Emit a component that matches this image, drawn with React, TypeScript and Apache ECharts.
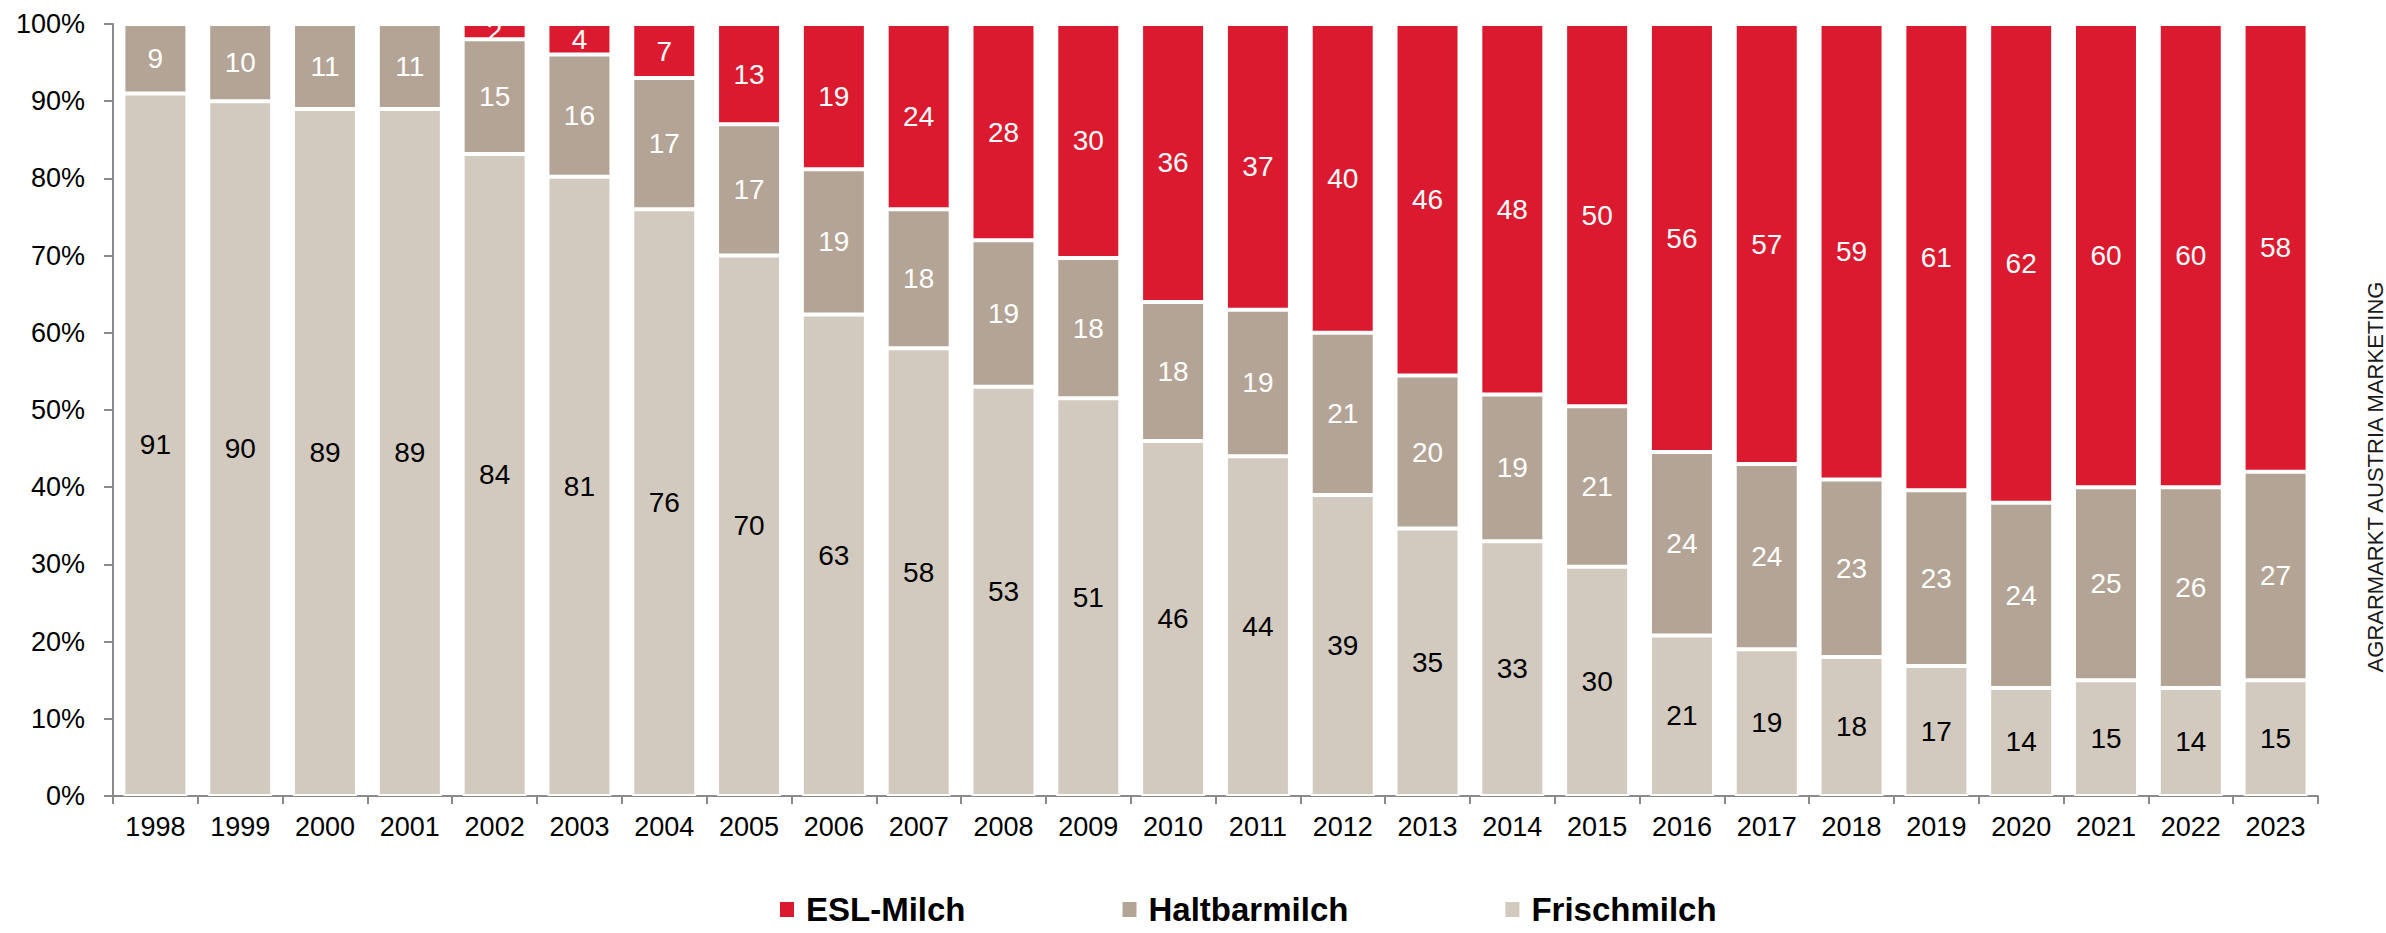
import React, { useEffect, useRef } from "react";
import * as echarts from "echarts";

const years = [
  "1998", "1999", "2000", "2001", "2002", "2003", "2004", "2005", "2006",
  "2007", "2008", "2009", "2010", "2011", "2012", "2013", "2014", "2015",
  "2016", "2017", "2018", "2019", "2020", "2021", "2022", "2023",
];
const frischmilch = [91, 90, 89, 89, 84, 81, 76, 70, 63, 58, 53, 51, 46, 44, 39, 35, 33, 30, 21, 19, 18, 17, 14, 15, 14, 15];
const haltbarmilch = [9, 10, 11, 11, 15, 16, 17, 17, 19, 18, 19, 18, 18, 19, 21, 20, 19, 21, 24, 24, 23, 23, 24, 25, 26, 27];
const eslMilch = [0, 0, 0, 0, 2, 4, 7, 13, 19, 24, 28, 30, 36, 37, 40, 46, 48, 50, 56, 57, 59, 61, 62, 60, 60, 58];
const seriesNames = ["Frischmilch", "Haltbarmilch", "ESL-Milch"];
const legendOrder = ["ESL-Milch", "Haltbarmilch", "Frischmilch"];
const sourceText = "AGRARMARKT AUSTRIA MARKETING";

const COLORS = ["#D2C9BF", "#B3A495", "#DB1A30"];
const LABEL_COLORS = ["#000000", "#ffffff", "#ffffff"];
const FONT = "'Liberation Sans', Arial, Helvetica, sans-serif";

export default function App() {
  const ref = useRef<HTMLDivElement>(null);
  useEffect(() => {
    document.body.style.margin = "0";
    if (!ref.current) return;
    const chart = echarts.init(ref.current, undefined, { renderer: "svg" });
    const raw = [frischmilch, haltbarmilch, eslMilch];
    const totals = years.map((_, i) => raw.reduce((s, arr) => s + arr[i], 0));
    const series = raw.map((arr, si) => ({
      name: seriesNames[si],
      type: "bar",
      stack: "total",
      barWidth: 64,
      data: arr.map((v, i) => (v / totals[i]) * 100),
      itemStyle: { color: COLORS[si], borderColor: "#ffffff", borderWidth: 2 },
      label: {
        show: true,
        position: "inside",
        color: LABEL_COLORS[si],
        fontSize: 28,
        fontFamily: FONT,
        formatter: (p: any) => {
          const v = raw[si][p.dataIndex];
          return v ? String(v) : "";
        },
      },
    }));
    chart.setOption({
      animation: false,
      backgroundColor: "#ffffff",
      grid: { left: 113, right: 68, top: 24, bottom: 137, outerBoundsMode: "none" },
      legend: {
        data: legendOrder,
        left: 773,
        top: 888,
        icon: "rect",
        itemWidth: 16,
        itemHeight: 17,
        itemGap: 155,
        textStyle: {
          fontSize: 33,
          fontWeight: "bold",
          fontFamily: FONT,
          color: "#000",
          lineHeight: 33,
          padding: [0, 0, 0, 6],
        },
      },
      xAxis: {
        type: "category",
        data: years,
        axisLine: { lineStyle: { color: "#8A8A8A", width: 2 } },
        axisTick: { show: true, length: 8, lineStyle: { color: "#8A8A8A", width: 2 } },
        axisLabel: { color: "#000", fontSize: 27, fontFamily: FONT, margin: 17 },
      },
      yAxis: {
        type: "value",
        min: 0,
        max: 100,
        interval: 10,
        splitLine: { show: false },
        axisLine: { show: true, lineStyle: { color: "#8A8A8A", width: 2 } },
        axisTick: { show: true, length: 9, lineStyle: { color: "#8A8A8A", width: 2 } },
        axisLabel: { color: "#000", fontSize: 27, fontFamily: FONT, margin: 28, formatter: "{value}%" },
      },
      series,
      graphic: [
        {
          type: "text",
          x: 2375,
          y: 477,
          rotation: Math.PI / 2,
          style: {
            text: sourceText,
            fontSize: 22,
            fontFamily: FONT,
            fill: "#1a1a1a",
            align: "center",
            verticalAlign: "middle",
          },
        },
      ],
    });
    return () => chart.dispose();
  }, []);
  return <div ref={ref} style={{ width: 2386, height: 933 }} />;
}
